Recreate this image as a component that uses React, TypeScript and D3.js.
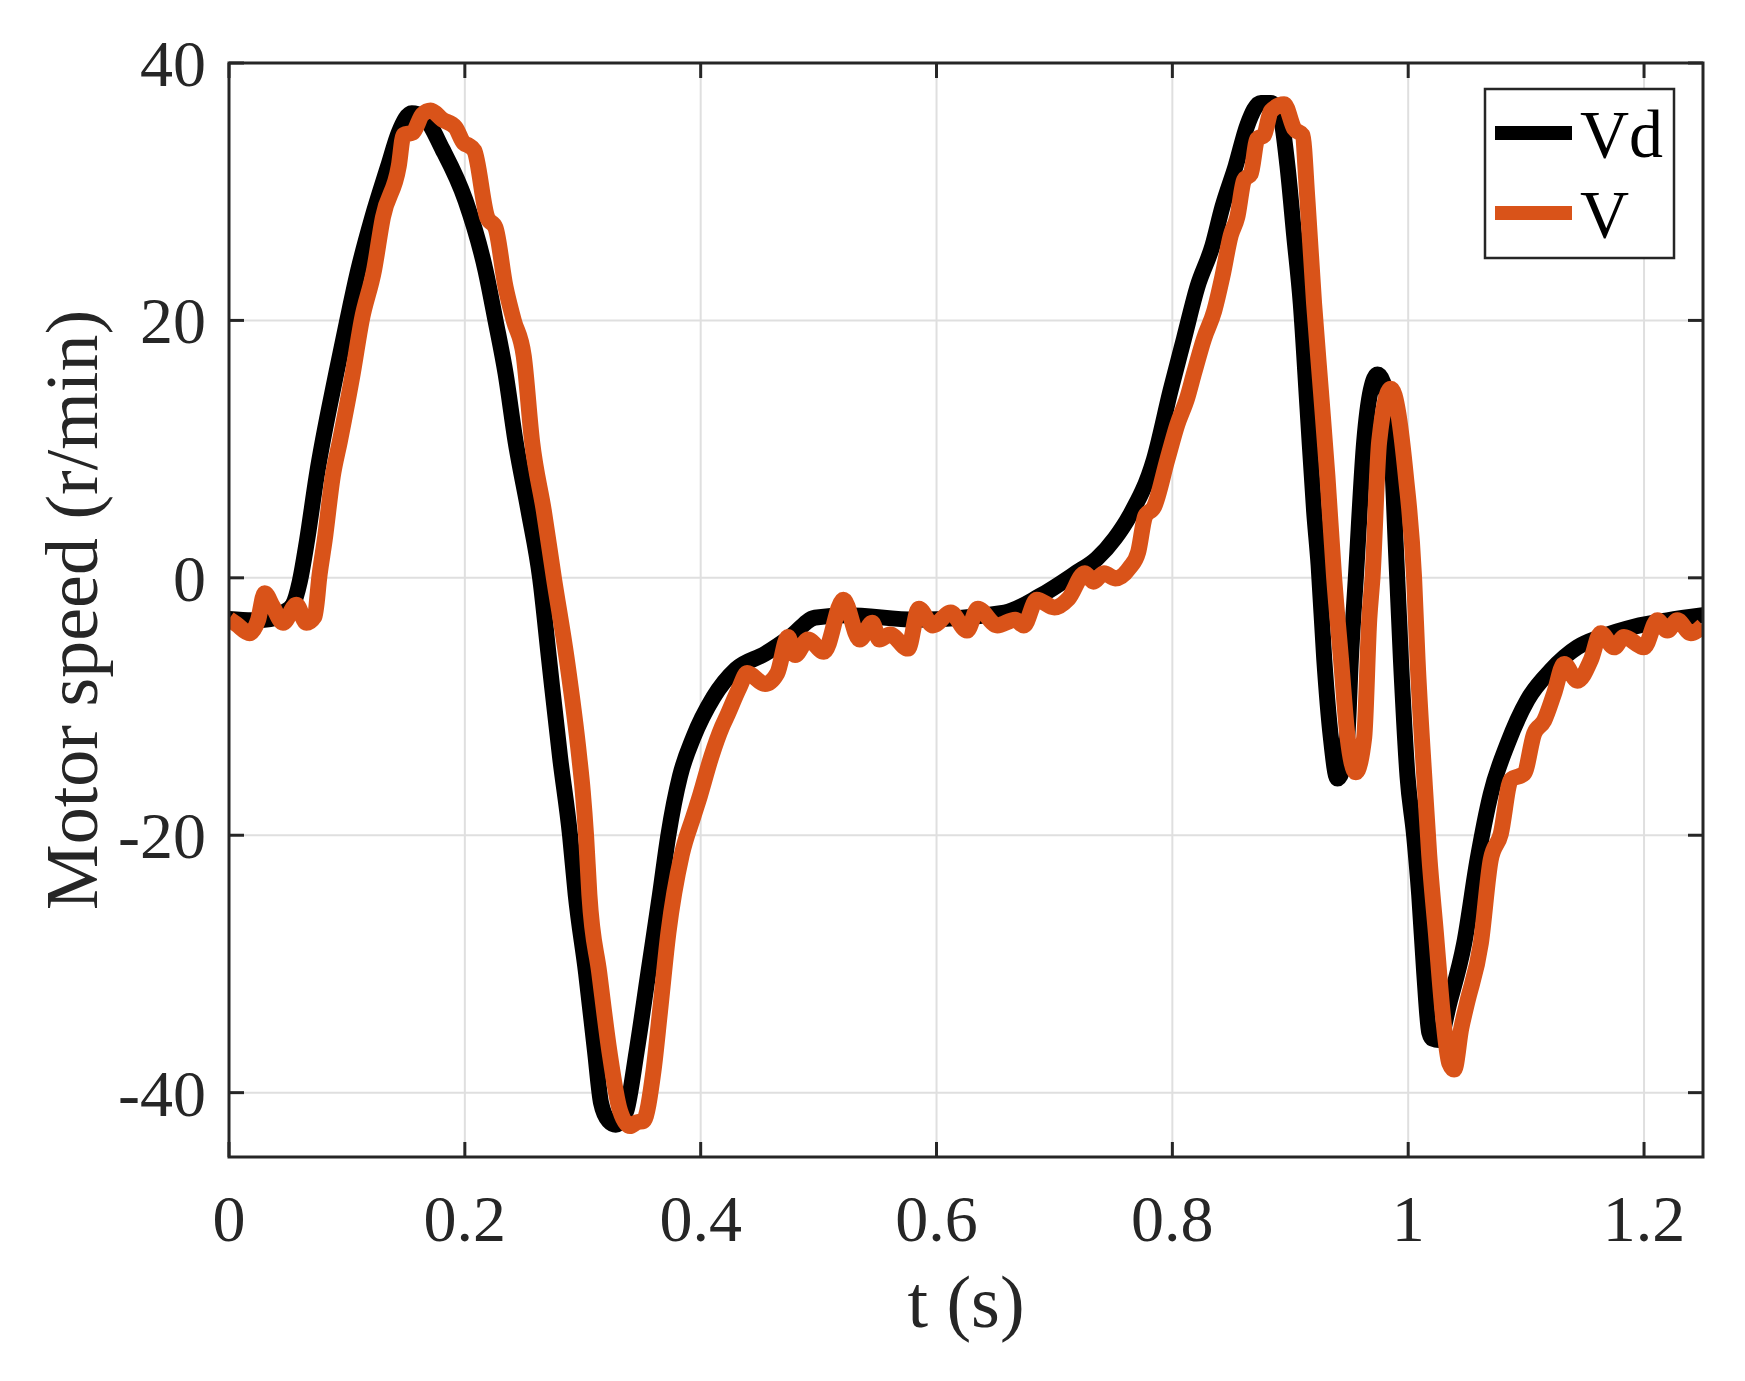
import React from "react";
import * as d3 from "d3";

const tVd = [0, 0.02, 0.035, 0.046, 0.054, 0.06, 0.066, 0.0743, 0.091, 0.1003, 0.1096, 0.1215, 0.135, 0.144, 0.155, 0.165, 0.181, 0.2006, 0.2175, 0.226, 0.2345, 0.243, 0.254, 0.2638, 0.2714, 0.2807, 0.2892, 0.294, 0.3028, 0.3104, 0.3155, 0.322, 0.328, 0.334, 0.337, 0.3457, 0.3556, 0.3655, 0.3726, 0.3825, 0.3938, 0.4107, 0.43, 0.4546, 0.4758, 0.497, 0.524, 0.582, 0.6576, 0.6879, 0.718, 0.736, 0.7515, 0.7636, 0.7844, 0.7986, 0.8099, 0.8212, 0.834, 0.8424, 0.8537, 0.8637, 0.875, 0.8835, 0.892, 0.8976, 0.9033, 0.9089, 0.9146, 0.9202, 0.924, 0.9288, 0.9344, 0.94, 0.944, 0.9486, 0.9514, 0.9556, 0.9627, 0.9683, 0.974, 0.9839, 0.986, 0.989, 0.9938, 0.9994, 1.005, 1.0093, 1.0136, 1.0178, 1.0206, 1.026, 1.035, 1.0475, 1.0588, 1.07, 1.0842, 1.1011, 1.1209, 1.1435, 1.1633, 1.1915, 1.2198, 1.25];
const vVd = [-3.2, -3.3, -3.2, -2.7, -2.1, -0.3, 2.8, 7.9, 15.9, 20, 23.9, 28, 32, 34.6, 36.1, 35.8, 33.3, 29.3, 23.9, 20, 15.9, 10.6, 5.2, 0, -6.3, -13.9, -20, -24.6, -30.7, -36.8, -40.8, -42.2, -42.5, -42.0, -41.4, -36.8, -30.7, -24.6, -20, -15.4, -12.4, -9.3, -7.1, -5.9, -4.6, -3.1, -2.9, -3.25, -2.7, -1.4, 0.36, 1.5, 3.1, 4.8, 9.2, 14.6, 18.6, 22.6, 25.8, 28.8, 32, 35.2, 36.9, 36.9, 35.7, 32, 26.6, 21.3, 13.2, 5.2, 1.0, -6.3, -12.4, -15.6, -15.0, -12, -6.3, 0, 10.6, 14.6, 15.8, 13.2, 10, 3.5, -6.3, -15.4, -20, -24.6, -30.7, -35.3, -35.8, -35.9, -33, -28.4, -21.9, -16.8, -12.9, -9.5, -7.2, -5.4, -4.6, -3.8, -3.3, -2.9];

const tV = [0, 0.0062, 0.0175, 0.0246, 0.0302, 0.0373, 0.0458, 0.0571, 0.0656, 0.0726, 0.0769, 0.0811, 0.088, 0.094, 0.105, 0.1125, 0.123, 0.1305, 0.144, 0.148, 0.156, 0.164, 0.171, 0.181, 0.192, 0.199, 0.203, 0.208, 0.219, 0.226, 0.2345, 0.2415, 0.25, 0.257, 0.267, 0.2755, 0.2864, 0.297, 0.3, 0.3028, 0.3056, 0.314, 0.3226, 0.3316, 0.34, 0.346, 0.3514, 0.36, 0.3655, 0.3726, 0.384, 0.394, 0.3995, 0.409, 0.418, 0.422, 0.433, 0.4394, 0.4546, 0.465, 0.474, 0.48, 0.491, 0.5045, 0.521, 0.5348, 0.5455, 0.5515, 0.5606, 0.5758, 0.585, 0.597, 0.612, 0.6258, 0.635, 0.6515, 0.6667, 0.674, 0.685, 0.7, 0.712, 0.7258, 0.733, 0.742, 0.7515, 0.7636, 0.771, 0.777, 0.7844, 0.7958, 0.8042, 0.8127, 0.8184, 0.8269, 0.8354, 0.8424, 0.8495, 0.855, 0.8608, 0.8665, 0.872, 0.8778, 0.8835, 0.8948, 0.9033, 0.9103, 0.9146, 0.9202, 0.9259, 0.9315, 0.9372, 0.943, 0.9486, 0.9556, 0.9627, 0.967, 0.9697, 0.9754, 0.9853, 0.998, 1.005, 1.0079, 1.0136, 1.0178, 1.0235, 1.0291, 1.0348, 1.039, 1.045, 1.05, 1.0616, 1.07, 1.0785, 1.087, 1.0983, 1.1068, 1.1153, 1.1237, 1.1322, 1.1435, 1.1548, 1.1633, 1.1746, 1.183, 1.2, 1.2113, 1.2198, 1.2283, 1.2396, 1.25];
const vV = [-3.2, -3.6, -4.3, -3.3, -1.2, -2.25, -3.5, -2.1, -3.5, -3.0, 0.3, 2.9, 7.9, 10.6, 15.9, 20, 23.9, 28, 32, 34.4, 34.6, 36, 36.3, 35.6, 35, 33.8, 33.6, 33.2, 28, 27.2, 22.6, 20, 17.2, 10.6, 5.2, 0, -6.3, -13.9, -16.6, -20, -24.6, -30.7, -36.8, -41.4, -42.6, -42.3, -42.2, -38.3, -33.7, -27.6, -21.5, -18.5, -16.9, -13.9, -11.6, -10.8, -8.5, -7.4, -8.25, -7.4, -4.6, -6, -4.8, -5.75, -1.7, -4.8, -3.5, -4.8, -4.4, -5.5, -2.4, -3.7, -2.7, -4.1, -2.4, -3.7, -3.25, -3.7, -1.7, -2.3, -1.6, 0.36, -0.3, 0.36, -0.05, 0.78, 2, 4.8, 5.5, 9.2, 11.9, 14, 15.9, 18.6, 20.7, 23.4, 26.6, 28, 30.9, 31.4, 34.1, 34.4, 36.25, 36.8, 34.9, 34.4, 29.3, 21.3, 14.6, 7.9, 0, -6.3, -12.4, -15.1, -12.4, -3.2, 0, 10.6, 14.7, 7.9, 0, -6.3, -15.4, -21.5, -27.6, -33.7, -37.7, -38.2, -35, -33, -28.4, -21.9, -19.9, -15.7, -15.2, -12.1, -11.1, -9, -6.7, -8, -6.4, -4.3, -5.4, -4.6, -5.4, -3.3, -4.1, -3.3, -4.3, -3.7];

const xTicks = [0, 0.2, 0.4, 0.6, 0.8, 1, 1.2];
const yTicks = [-40, -20, 0, 20, 40];
const seriesNames = ["Vd", "V"];
const seriesColors = ["#000000", "#D95319"];

const W = 1745, H = 1381;
const L = 229, R = 1703, T = 63, B = 1157;
const FONT = "'Times New Roman', 'Liberation Serif', serif";
const AX = "#262626";

export default function App() {
  const x = d3.scaleLinear().domain([0, 1.25]).range([L, R]);
  const y = d3.scaleLinear().domain([-45, 40]).range([B, T]);
  const line = d3
    .line<[number, number]>()
    .x((d) => x(d[0]))
    .y((d) => y(d[1]))
    .curve(d3.curveMonotoneX);
  const dVd: [number, number][] = tVd.map((t, i) => [t, vVd[i]]);
  const dV: [number, number][] = tV.map((t, i) => [t, vV[i]]);
  const tick = 15;
  const fmt = (v: number) => (v === 0 ? "0" : String(v));
  return (
    <svg width={W} height={H} style={{ position: "absolute", left: 0, top: 0, background: "#fff" }} fontFamily={FONT}>
      <rect x={0} y={0} width={W} height={H} fill="#fff" />
      <defs>
        <clipPath id="plotclip">
          <rect x={L} y={T} width={R - L} height={B - T} />
        </clipPath>
      </defs>
      {xTicks.map((t) => (
        <line key={"gx" + t} x1={x(t)} x2={x(t)} y1={T} y2={B} stroke="#dfdfdf" strokeWidth={2} />
      ))}
      {yTicks.map((v) => (
        <line key={"gy" + v} x1={L} x2={R} y1={y(v)} y2={y(v)} stroke="#dfdfdf" strokeWidth={2} />
      ))}
      <g clipPath="url(#plotclip)" fill="none" strokeLinejoin="round" strokeLinecap="butt">
        <path d={line(dVd) || ""} stroke={seriesColors[0]} strokeWidth={16} />
        <path d={line(dV) || ""} stroke={seriesColors[1]} strokeWidth={16} />
      </g>
      <rect x={L} y={T} width={R - L} height={B - T} fill="none" stroke={AX} strokeWidth={3} />
      {xTicks.map((t) => (
        <g key={"tx" + t}>
          <line x1={x(t)} x2={x(t)} y1={B} y2={B - tick} stroke={AX} strokeWidth={3} />
          <line x1={x(t)} x2={x(t)} y1={T} y2={T + tick} stroke={AX} strokeWidth={3} />
          <text x={x(t)} y={1241} fontSize={66} fill={AX} textAnchor="middle">
            {fmt(t)}
          </text>
        </g>
      ))}
      {yTicks.map((v) => (
        <g key={"ty" + v}>
          <line x1={L} x2={L + tick} y1={y(v)} y2={y(v)} stroke={AX} strokeWidth={3} />
          <line x1={R} x2={R - tick} y1={y(v)} y2={y(v)} stroke={AX} strokeWidth={3} />
          <text x={206} y={y(v) + 23} fontSize={66} fill={AX} textAnchor="end">
            {fmt(v)}
          </text>
        </g>
      ))}
      <text x={(L + R) / 2} y={1327} fontSize={74} fill={AX} textAnchor="middle">
        t (s)
      </text>
      <text
        transform={`translate(97, ${(T + B) / 2}) rotate(-90)`}
        fontSize={74}
        fill={AX}
        textAnchor="middle"
      >
        Motor speed (r/min)
      </text>
      <rect x={1485} y={89} width={189} height={169} fill="#fff" stroke={AX} strokeWidth={2.5} />
      {seriesNames.map((n, i) => (
        <g key={n}>
          <line x1={1495} x2={1572} y1={133 + i * 80} y2={133 + i * 80} stroke={seriesColors[i]} strokeWidth={14} />
          <text x={1580} y={157 + i * 80} fontSize={68} fill="#000">
            {n}
          </text>
        </g>
      ))}
    </svg>
  );
}
